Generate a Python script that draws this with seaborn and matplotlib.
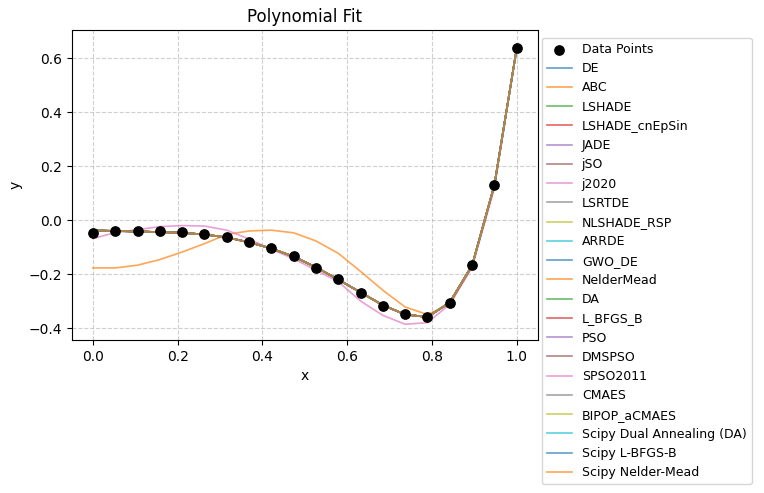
import numpy as np
import matplotlib
matplotlib.use('Agg')
import matplotlib.pyplot as plt
import seaborn as sns

# sample positions (20 evenly spaced points on [0, 1])
x_vals = [i / 19 for i in range(20)]

data_y = [-0.046, -0.041, -0.041, -0.041, -0.045, -0.052, -0.064, -0.082, -0.105, -0.134,
          -0.176, -0.219, -0.269, -0.317, -0.349, -0.358, -0.306, -0.165, 0.129, 0.638]

# most optimisers land on essentially the same fit
good_fit = [-0.038, -0.040, -0.042, -0.044, -0.047, -0.053, -0.064, -0.082, -0.105, -0.135,
            -0.175, -0.220, -0.268, -0.315, -0.350, -0.359, -0.305, -0.168, 0.130, 0.637]

abc_fit = [-0.177, -0.177, -0.167, -0.146, -0.118, -0.087, -0.053, -0.040, -0.037, -0.047,
           -0.077, -0.123, -0.190, -0.260, -0.322, -0.350, -0.312, -0.172, 0.125, 0.637]

j2020_fit = [-0.068, -0.046, -0.035, -0.024, -0.020, -0.022, -0.037, -0.070, -0.108, -0.143,
             -0.186, -0.228, -0.300, -0.353, -0.386, -0.380, -0.312, -0.175, 0.118, 0.637]

algorithms = ['DE', 'ABC', 'LSHADE', 'LSHADE_cnEpSin', 'JADE', 'jSO', 'j2020', 'LSRTDE',
              'NLSHADE_RSP', 'ARRDE', 'GWO_DE', 'NelderMead', 'DA', 'L_BFGS_B', 'PSO',
              'DMSPSO', 'SPSO2011', 'CMAES', 'BIPOP_aCMAES', 'Scipy Dual Annealing (DA)',
              'Scipy L-BFGS-B', 'Scipy Nelder-Mead']

fits = {name: good_fit for name in algorithms}
fits['ABC'] = abc_fit
fits['j2020'] = j2020_fit

palette = sns.color_palette('tab10', 10)

fig, ax = plt.subplots(figsize=(7.64, 4.93), dpi=100)

ax.scatter(x_vals, data_y, color='black', s=45, zorder=10, label='Data Points')
for i, name in enumerate(algorithms):
    sns.lineplot(x=x_vals, y=fits[name], ax=ax, color=palette[i % 10], alpha=0.7,
                 linewidth=1.2, label=name)

ax.set_title('Polynomial Fit')
ax.set_xlabel('x')
ax.set_ylabel('y')
ax.set_xlim(-0.05, 1.05)
ax.set_ylim(-0.445, 0.705)
ax.grid(True, linestyle='--', alpha=0.6)
ax.legend(loc='upper left', bbox_to_anchor=(0.995, 0.995), fontsize=9)

plt.subplots_adjust(left=0.094, right=0.704, bottom=0.31, top=0.939)
plt.savefig('out.png', dpi=100)
